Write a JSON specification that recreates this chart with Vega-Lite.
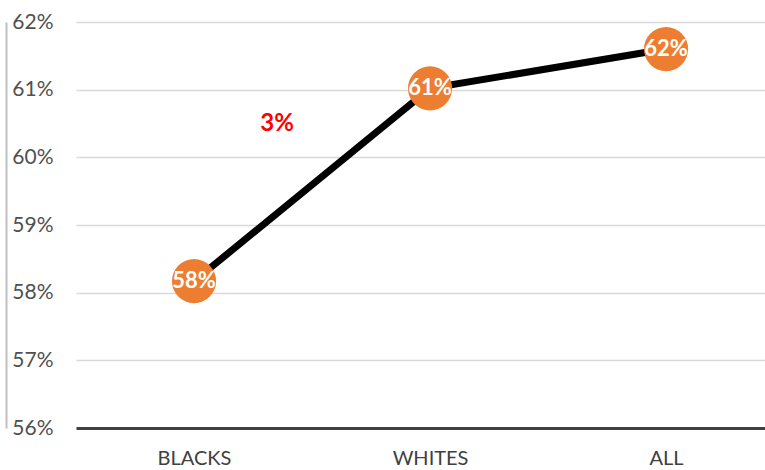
{
  "$schema": "https://vega.github.io/schema/vega-lite/v6.json",
  "width": 689,
  "height": 406,
  "autosize": "none",
  "padding": {"left": 76, "top": 22, "right": 0, "bottom": 42},
  "background": "white",
  "config": {"view": {"stroke": null}, "font": "Lato"},
  "resolve": {"axis": {"y": "independent"}},
  "data": {"values": [
    {"group": "BLACKS", "rate": 0.5817},
    {"group": "WHITES", "rate": 0.6102},
    {"group": "ALL", "rate": 0.616}
  ]},
  "encoding": {
    "x": {
      "field": "group", "type": "nominal", "sort": null,
      "scale": {"type": "point", "padding": 0.4597, "align": 0.544},
      "axis": {"orient": "bottom", "domain": true, "domainColor": "#404040", "domainWidth": 3, "ticks": false, "labelAngle": 0, "labelFontSize": 20, "labelColor": "#404040", "labelPadding": 20, "title": null, "grid": false}
    },
    "y": {
      "field": "rate", "type": "quantitative",
      "scale": {"domain": [0.56, 0.62], "nice": false, "zero": false},
      "axis": null
    }
  },
  "layer": [
    {
      "mark": {"type": "line", "color": "black", "strokeWidth": 7},
      "encoding": {
        "y": {
          "field": "rate", "type": "quantitative",
          "scale": {"domain": [0.56, 0.62], "nice": false, "zero": false},
          "axis": {"orient": "left", "format": ".0%", "values": [0.56, 0.57, 0.58, 0.59, 0.6, 0.61, 0.62], "labelFontSize": 21, "labelColor": "#505050", "labelPadding": 23, "ticks": false, "domain": false, "grid": true, "gridColor": "#d9d9d9", "gridWidth": 1.3, "title": null}
        }
      }
    },
    {"mark": {"type": "circle", "size": 1950, "color": "#ED7D31", "opacity": 1}},
    {
      "mark": {"type": "text", "color": "white", "fontWeight": "bold", "fontSize": 22},
      "encoding": {"text": {"field": "rate", "type": "quantitative", "format": ".0%"}}
    },
    {
      "data": {"values": [{"group": "BLACKS", "rate": 0.6049, "label": "3%"}]},
      "mark": {"type": "text", "color": "#ff0000", "fontWeight": "bold", "fontSize": 24, "dx": 83},
      "encoding": {
        "text": {"field": "label", "type": "nominal"},
        "y": {
          "field": "rate", "type": "quantitative",
          "scale": {"domain": [0.56, 0.62], "nice": false, "zero": false},
          "axis": {"orient": "left", "offset": 70, "domain": true, "domainColor": "#bfbfbf", "domainWidth": 2, "labels": false, "ticks": false, "grid": false, "title": null}
        }
      }
    }
  ]
}
